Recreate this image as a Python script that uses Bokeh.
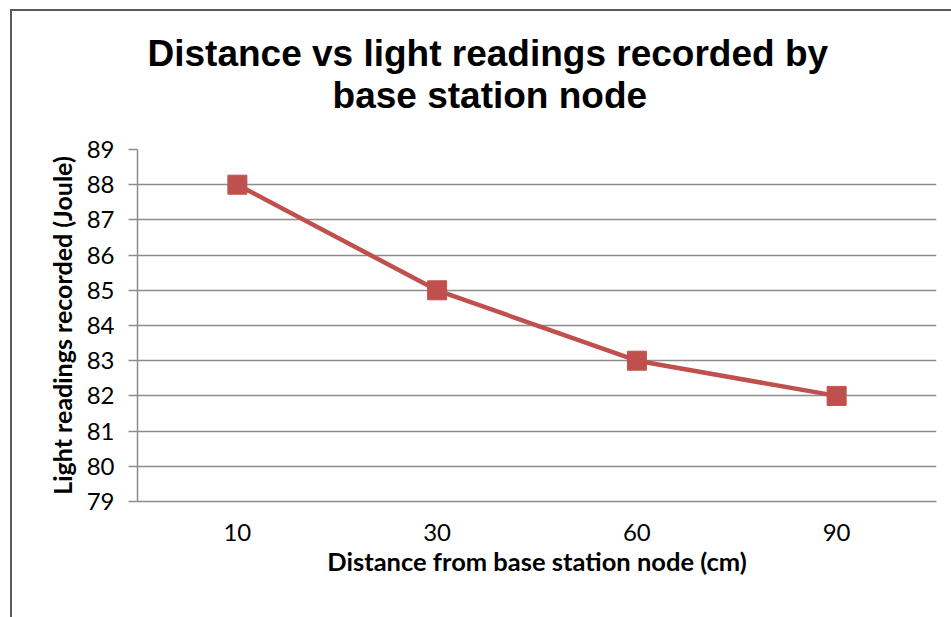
from bokeh.plotting import figure
from bokeh.models import FactorRange, Range1d, FixedTicker, Title
from bokeh.embed import file_html
from bokeh.resources import INLINE

# ---- data ----
distances = ["10", "30", "60", "90"]
light_readings = [88, 85, 83, 82]
y_ticks = [79, 80, 81, 82, 83, 84, 85, 86, 87, 88, 89]

title_line1 = "Distance vs light readings recorded by"
title_line2 = "base station node"
x_title = "Distance from base station node (cm)"
y_title = "Light readings recorded (Joule)"

RED = "#C0504D"
GRID = "#8C8C8C"
BORDER = "#5A5A5A"

# chart-area border drawn with CSS backgrounds (extends past right/bottom edges)
border_css = {
    "background-color": "white",
    "background-image": f"linear-gradient({BORDER}, {BORDER}), linear-gradient({BORDER}, {BORDER})",
    "background-size": "2px 100%, 100% 2px",
    "background-position": "10px 10px, 10px 9px",
    "background-repeat": "no-repeat",
}

p = figure(
    width=951, height=617,
    x_range=FactorRange(*distances, range_padding=0),
    y_range=Range1d(79, 89),
    output_backend="svg", toolbar_location=None,
    min_border_left=137, min_border_right=15,
    min_border_top=149, min_border_bottom=116,
    styles=border_css,
)
p.outline_line_color = None
p.background_fill_color = "white"
p.border_fill_color = None

# second line indented with no-break spaces so it sits centred under the first
indent = "\u00a0" * 18
p.title = Title(text=title_line1 + "\n" + indent + title_line2,
                align="left", offset=10, vertical_align="top",
                text_font="Liberation Sans", text_font_style="bold",
                text_font_size="37px", text_color="black",
                text_line_height=1.04, standoff=62)

# grid
p.xgrid.grid_line_color = None
p.ygrid.grid_line_color = GRID
p.ygrid.grid_line_width = 1.5
p.yaxis.ticker = FixedTicker(ticks=y_ticks)

# y axis
p.yaxis.axis_line_color = GRID
p.yaxis.axis_line_width = 1.5
p.yaxis.major_tick_line_color = GRID
p.yaxis.major_tick_line_width = 1.5
p.yaxis.major_tick_out = 9
p.yaxis.major_tick_in = 0
p.yaxis.minor_tick_line_color = None
p.yaxis.major_label_standoff = 14
p.yaxis.major_label_text_font = "Lato"
p.yaxis.major_label_text_font_size = "24px"
p.yaxis.major_label_text_color = "black"
p.yaxis.axis_label = y_title
p.yaxis.axis_label_text_font = "Lato"
p.yaxis.axis_label_text_font_style = "bold"
p.yaxis.axis_label_text_font_size = "25px"
p.yaxis.axis_label_text_color = "black"
p.yaxis.axis_label_standoff = 7

# x axis
p.xaxis.axis_line_color = GRID
p.xaxis.axis_line_width = 1.5
p.xaxis.major_tick_line_color = None
p.xaxis.major_tick_out = 0
p.xaxis.major_tick_in = 0
p.xaxis.minor_tick_line_color = None
p.xaxis.major_label_standoff = 22
p.xaxis.major_label_text_font = "Lato"
p.xaxis.major_label_text_font_size = "24px"
p.xaxis.major_label_text_color = "black"
p.xaxis.axis_label = x_title
p.xaxis.axis_label_text_font = "Lato"
p.xaxis.axis_label_text_font_style = "bold"
p.xaxis.axis_label_text_font_size = "25.5px"
p.xaxis.axis_label_text_color = "black"
p.xaxis.axis_label_standoff = 2

# series
p.line(distances, light_readings, line_color=RED, line_width=4.5)
p.scatter(distances, light_readings, marker="square", size=19,
          fill_color=RED, line_color=RED)

open("out.html", "w").write(file_html(p, INLINE))
